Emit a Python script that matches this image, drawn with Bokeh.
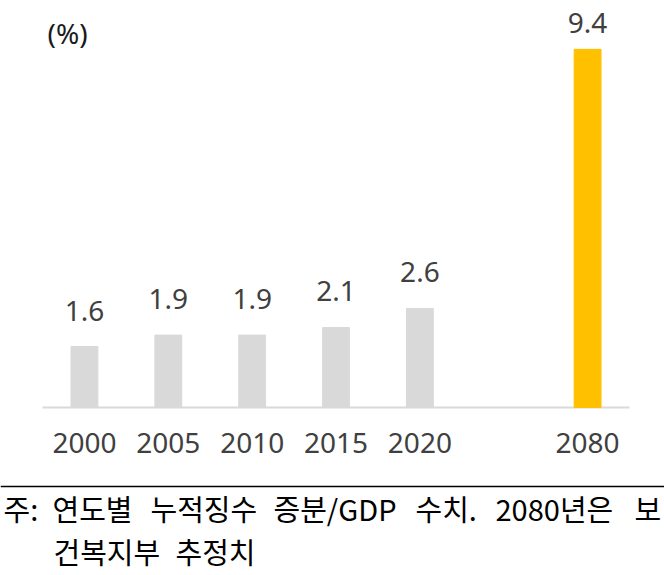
from bokeh.core.properties import value
from bokeh.embed import file_html
from bokeh.models import ColumnDataSource, FixedTicker, Label, LinearAxis, Range1d, Span
from bokeh.plotting import figure
from bokeh.resources import INLINE

# data
slots = ["2000", "2005", "2010", "2015", "2020", "", "2080"]
bar_years = ["2000", "2005", "2010", "2015", "2020", "2080"]
values = [1.6, 1.9, 1.9, 2.1, 2.6, 9.4]
value_labels = ["1.6", "1.9", "1.9", "2.1", "2.6", "9.4"]
unit_label = "(%)"
note_line1 = ["주:", "연도별", "누적징수", "증분/GDP", "수치.", "2080년은", "보"]
note_line2 = ["건복지부", "추정치"]

GRAY = "#d9d9d9"
GOLD = "#ffc000"
TEXT = "#404040"
W, H = 664, 575

pos = [slots.index(y) for y in bar_years]
source = ColumnDataSource(data=dict(
    x=pos,
    val=values,
    label=value_labels,
    color=[GOLD if y == "2080" else GRAY for y in bar_years],
    dy=[-26 if v > 9 else -36 for v in values],
))

# the frame fills the whole canvas; the category axis sits at y = 0
p = figure(x_range=Range1d(-1.001, 6.917), y_range=Range1d(-4.409, 10.682),
           width=W, height=H, output_backend="svg", toolbar_location=None,
           x_axis_type=None, y_axis_type=None, min_border=0)
p.grid.grid_line_color = None
p.outline_line_color = None

p.segment(x0=-0.5, y0=0, x1=len(slots) - 0.5, y1=0, line_color=GRAY, line_width=2)
p.vbar(x="x", top="val", width=0.32, color="color", source=source)
p.text(x="x", y="val", text="label", y_offset="dy", source=source,
       text_align="center", text_baseline="middle",
       text_font=value("Noto Sans"), text_font_size="28px", text_color=TEXT)

xaxis = LinearAxis(fixed_location=0, ticker=FixedTicker(ticks=pos),
                   major_label_overrides={i: s for i, s in enumerate(slots) if s})
xaxis.axis_line_color = None
xaxis.major_tick_line_color = None
xaxis.minor_tick_line_color = None
xaxis.major_label_standoff = 19
xaxis.major_label_text_font = "Noto Sans"
xaxis.major_label_text_font_size = "28px"
xaxis.major_label_text_color = TEXT
p.add_layout(xaxis, "below")

p.add_layout(Label(x=47, y=H - 32, x_units="screen", y_units="screen", text=unit_label,
                   text_baseline="middle", text_font="Noto Sans", text_font_size="28px",
                   text_color="#1a1a1a"))

# footnote: rule across the page and two lines of text
p.add_layout(Span(location=H - 486, location_units="screen", dimension="width",
                  line_color="black", line_width=1.5))

for words, xs, y in [(note_line1, [3, 52, 150, 273, 415, 495, 634], 507),
                     (note_line2, [53, 175], 550)]:
    for w, x in zip(words, xs):
        p.add_layout(Label(x=x, y=H - y, x_units="screen", y_units="screen", text=w,
                           text_baseline="middle", text_font="Noto Sans CJK KR",
                           text_font_size="29px", text_color="black"))

open("out.html", "w").write(file_html(p, INLINE))
